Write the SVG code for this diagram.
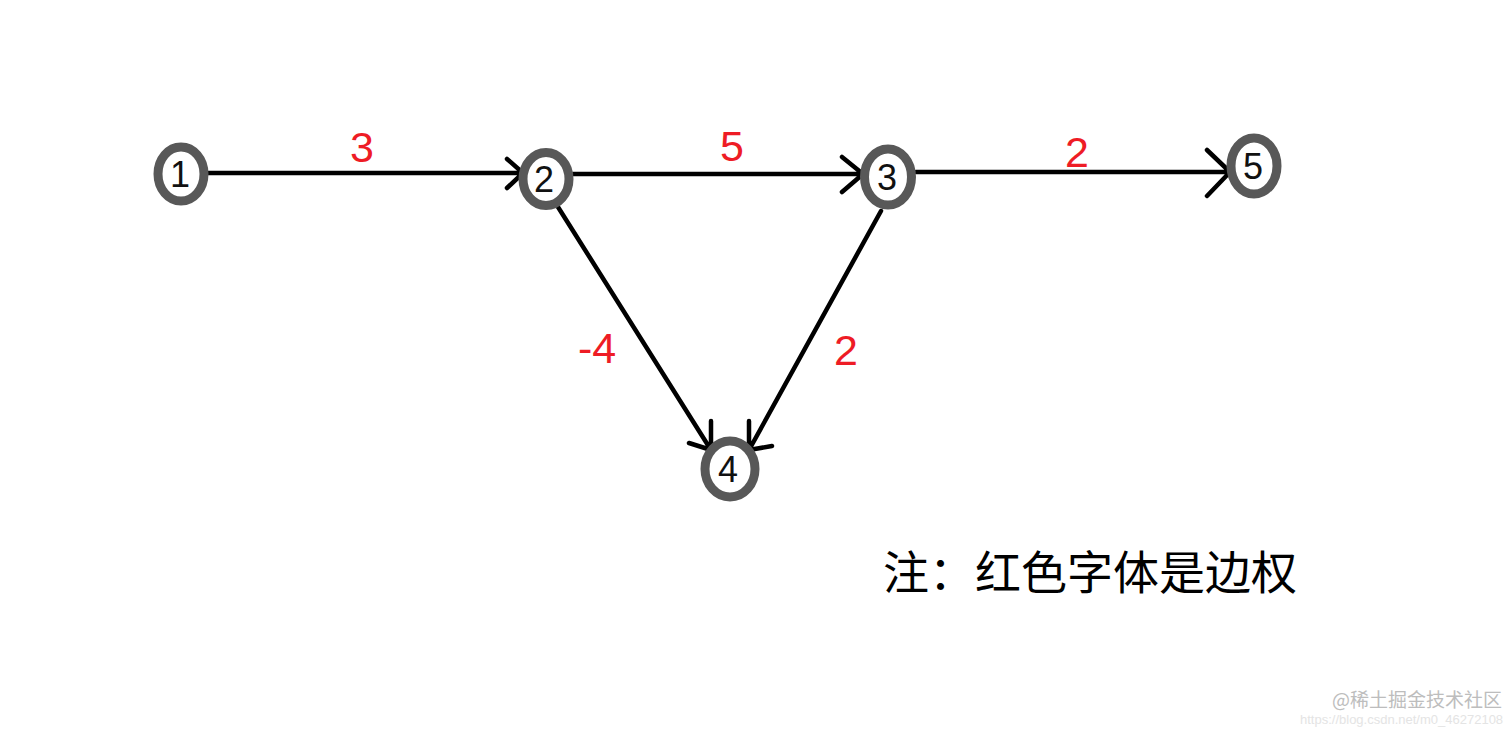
<svg xmlns="http://www.w3.org/2000/svg" width="1512" height="732" viewBox="0 0 1512 732">
<style>
.node ellipse{fill:#fff;stroke:#585858;stroke-width:9}
.node text{font-family:"Liberation Sans","Noto Sans",sans-serif;font-size:36px;fill:#111;text-anchor:middle}
.edge{stroke:#000;stroke-width:4.5;fill:none;stroke-linecap:round;stroke-linejoin:round}
.w{font-family:"Liberation Sans","Noto Sans",sans-serif;font-size:43px;fill:#ee1c25;text-anchor:middle}
.note{font-family:"Noto Sans CJK SC",sans-serif;font-size:46px;fill:#000}
</style>
<rect width="1512" height="732" fill="#fff"/>
<g id="connectors">
<path class="edge" d="M208 173 L523 173 M507 159 L523 173 L507 188"/>
<path class="edge" d="M573 174 L863 174 M842 157 L863 174 L842 192"/>
<path class="edge" d="M916 172 L1230 172 M1207 150 L1230 172 L1207 196"/>
<path class="edge" d="M558 207 L711 450 M711 421 L711 450 L689 443"/>
<path class="edge" d="M881 211 L749 450 M749 421 L749 450 L772 446"/>
<text class="w" x="362" y="162">3</text>
<text class="w" x="732" y="161">5</text>
<text class="w" x="1077" y="167">2</text>
<text class="w" x="597" y="363">-4</text>
<text class="w" x="846" y="365">2</text>
</g>
<g id="node1" class="node"><ellipse cx="181" cy="174" rx="23" ry="27"/><text x="180" y="187">1</text></g>
<g id="node2" class="node"><ellipse cx="546" cy="179" rx="23" ry="26.5"/><text x="544" y="192">2</text></g>
<g id="node3" class="node"><ellipse cx="888" cy="177" rx="23.5" ry="28"/><text x="887" y="190">3</text></g>
<g id="node4" class="node"><ellipse cx="730" cy="469" rx="25" ry="28"/><text x="728" y="482">4</text></g>
<g id="node5" class="node"><ellipse cx="1254" cy="166" rx="23" ry="28"/><text x="1253" y="179">5</text></g>
<text class="note" x="883" y="589">注：红色字体是边权</text>
<text x="1332" y="707" style="font-family:'Noto Sans CJK SC',sans-serif;font-size:19px;fill:#bdbdbd">@稀土掘金技术社区</text>
<text x="1300" y="724" style="font-family:'Liberation Sans',sans-serif;font-size:13px;fill:#e4e4e4">https://blog.csdn.net/m0_46272108</text>
</svg>
